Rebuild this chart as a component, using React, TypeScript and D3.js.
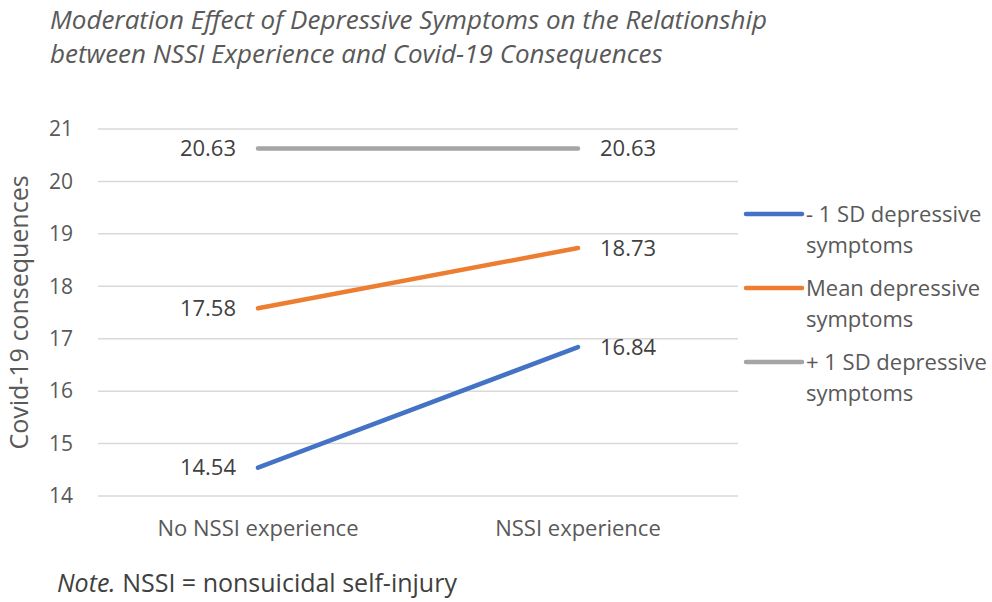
import { useEffect, useRef } from "react";
import * as d3 from "d3";

const categories = ["No NSSI experience", "NSSI experience"];
const seriesNames = [
  ["- 1 SD depressive", "symptoms"],
  ["Mean depressive", "symptoms"],
  ["+ 1 SD depressive", "symptoms"],
];
const lowValues = [14.54, 16.84];
const meanValues = [17.58, 18.73];
const highValues = [20.63, 20.63];
const yTicks = [14, 15, 16, 17, 18, 19, 20, 21];
const colors = ["#4472C4", "#ED7D31", "#A5A5A5"];

const FONT = "'Open Sans', Lato, sans-serif";

export default function App() {
  const ref = useRef<SVGSVGElement>(null);

  useEffect(() => {
    const svg = d3.select(ref.current);
    svg.selectAll("*").remove();
    const width = 992;
    const height = 602;
    const margin = { top: 129, right: 254, bottom: 106, left: 98 };

    const x = d3
      .scaleBand()
      .domain(categories)
      .range([margin.left, width - margin.right]);
    const y = d3
      .scaleLinear()
      .domain([14, 21])
      .range([height - margin.bottom, margin.top]);

    svg.attr("font-family", FONT);

    // title
    const title = svg
      .append("text")
      .attr("fill", "#595959")
      .attr("font-style", "italic")
      .attr("font-size", 26);
    title.append("tspan").attr("x", 50).attr("y", 29).text("Moderation Effect of Depressive Symptoms on the Relationship");
    title.append("tspan").attr("x", 50).attr("y", 63).text("between NSSI Experience and Covid-19 Consequences");

    // grid
    svg
      .append("g")
      .selectAll("line")
      .data(yTicks)
      .join("line")
      .attr("x1", margin.left)
      .attr("x2", width - margin.right)
      .attr("y1", (d) => y(d))
      .attr("y2", (d) => y(d))
      .attr("stroke", "#D9D9D9")
      .attr("stroke-width", 1.5);

    // y ticks
    svg
      .append("g")
      .selectAll("text")
      .data(yTicks)
      .join("text")
      .attr("x", 73)
      .attr("y", (d) => y(d))
      .attr("dy", "0.35em")
      .attr("text-anchor", "end")
      .attr("fill", "#595959")
      .attr("font-size", 21)
      .text((d) => d);

    // x labels
    svg
      .append("g")
      .selectAll("text")
      .data(categories)
      .join("text")
      .attr("x", (d) => x(d)! + x.bandwidth() / 2)
      .attr("y", height - margin.bottom + 40)
      .attr("text-anchor", "middle")
      .attr("fill", "#595959")
      .attr("font-size", 22)
      .text((d) => d);

    // y axis title
    svg
      .append("text")
      .attr("transform", `translate(28,${(y(14) + y(21)) / 2}) rotate(-90)`)
      .attr("text-anchor", "middle")
      .attr("fill", "#595959")
      .attr("font-size", 25)
      .text("Covid-19 consequences");

    const series = [lowValues, meanValues, highValues];
    const line = d3
      .line<number>()
      .x((_, i) => x(categories[i])! + x.bandwidth() / 2)
      .y((d) => y(d));

    series.forEach((vals, si) => {
      svg
        .append("path")
        .datum(vals)
        .attr("fill", "none")
        .attr("stroke", colors[si])
        .attr("stroke-width", 4.5)
        .attr("stroke-linecap", "round")
        .attr("d", line);

      vals.forEach((v, i) => {
        const cx = x(categories[i])! + x.bandwidth() / 2;
        svg
          .append("text")
          .attr("x", i === 0 ? cx - 22 : cx + 22)
          .attr("y", y(v))
          .attr("dy", "0.35em")
          .attr("text-anchor", i === 0 ? "end" : "start")
          .attr("fill", "#404040")
          .attr("font-size", 22)
          .text(v.toFixed(2));
      });
    });

    // legend
    const legend = svg.append("g");
    seriesNames.forEach((name, si) => {
      const ly = 214 + si * 74;
      legend
        .append("line")
        .attr("x1", 746)
        .attr("x2", 802)
        .attr("y1", ly)
        .attr("y2", ly)
        .attr("stroke", colors[si])
        .attr("stroke-width", 4.5)
        .attr("stroke-linecap", "round");
      const t = legend
        .append("text")
        .attr("fill", "#595959")
        .attr("font-size", 22);
      name.forEach((part, k) => {
        t.append("tspan")
          .attr("x", 806)
          .attr("y", ly + k * 31)
          .attr("dy", "0.35em")
          .text(part);
      });
    });

    // note
    const note = svg
      .append("text")
      .attr("x", 57)
      .attr("y", 592)
      .attr("fill", "#404040")
      .attr("font-size", 25);
    note.append("tspan").attr("font-style", "italic").text("Note.");
    note.append("tspan").text(" NSSI = nonsuicidal self-injury");
  }, []);

  return (
    <svg
      ref={ref}
      width={992}
      height={602}
      style={{ position: "absolute", left: 0, top: 0, background: "#fff" }}
    />
  );
}
